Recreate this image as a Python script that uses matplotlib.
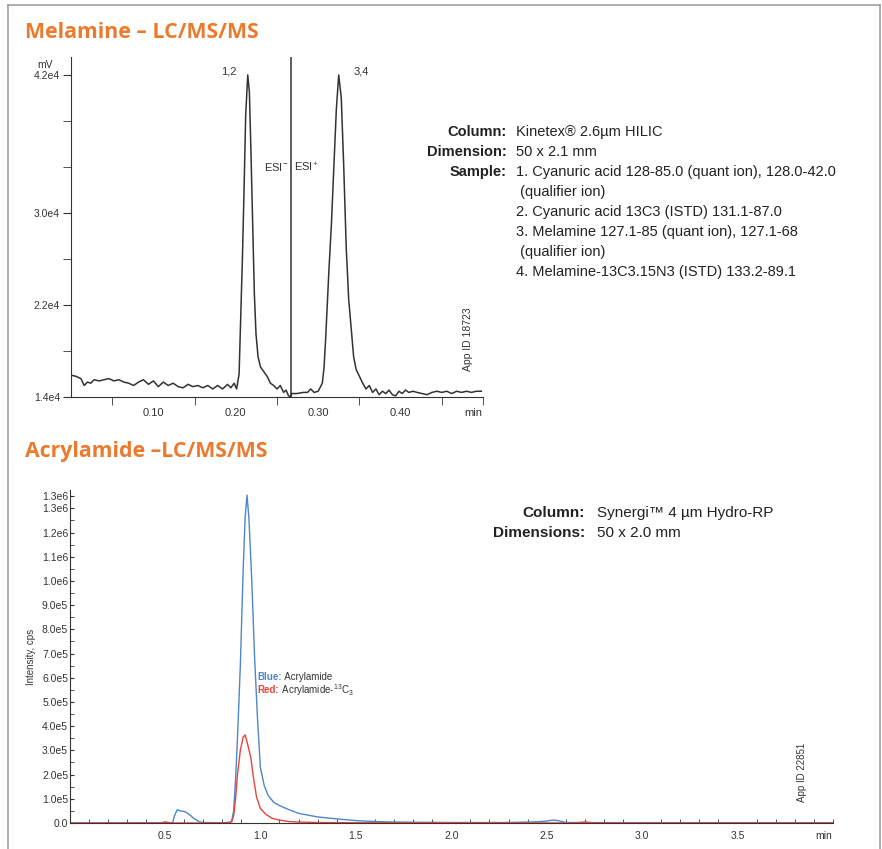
import numpy as np
import matplotlib.pyplot as plt
from matplotlib.lines import Line2D

# Melamine trace (time in min, signal in mV)
mel_t = [0.000, 0.006, 0.012, 0.016, 0.020, 0.024, 0.028, 0.034, 0.040, 0.046,
         0.052, 0.058, 0.064, 0.070, 0.076, 0.082, 0.088, 0.094, 0.100, 0.106,
         0.112, 0.118, 0.124, 0.130, 0.136, 0.142, 0.148, 0.154, 0.160, 0.166,
         0.172, 0.178, 0.184, 0.190, 0.194, 0.198, 0.201, 0.204, 0.206, 0.208,
         0.210, 0.212, 0.2145, 0.2165, 0.2185, 0.2205, 0.2225, 0.2245, 0.227, 0.230,
         0.234, 0.238, 0.242, 0.246, 0.250, 0.254, 0.258, 0.261, 0.264, 0.2672,
         0.2675, 0.274, 0.282, 0.287, 0.291, 0.295, 0.300, 0.305, 0.307, 0.309,
         0.311, 0.313, 0.316, 0.319, 0.322, 0.3249, 0.328, 0.331, 0.334, 0.337,
         0.340, 0.343, 0.346, 0.350, 0.354, 0.358, 0.362, 0.366, 0.370, 0.374,
         0.378, 0.382, 0.386, 0.390, 0.394, 0.398, 0.402, 0.406, 0.410, 0.415,
         0.420, 0.426, 0.432, 0.438, 0.444, 0.450, 0.456, 0.462, 0.468, 0.474,
         0.480, 0.486, 0.492, 0.498]
mel_v = [1.59, 1.58, 1.56, 1.50, 1.53, 1.52, 1.55, 1.54, 1.55, 1.56,
         1.54, 1.55, 1.53, 1.52, 1.50, 1.53, 1.55, 1.51, 1.54, 1.49,
         1.53, 1.50, 1.52, 1.49, 1.48, 1.51, 1.49, 1.50, 1.48, 1.50,
         1.47, 1.50, 1.47, 1.51, 1.48, 1.52, 1.47, 1.60, 2.10, 2.60,
         3.20, 3.85, 4.20, 4.05, 3.50, 2.90, 2.30, 1.95, 1.75, 1.66,
         1.62, 1.58, 1.52, 1.50, 1.47, 1.50, 1.44, 1.46, 1.41, 1.40,
         1.43, 1.43, 1.44, 1.44, 1.47, 1.44, 1.45, 1.52, 1.65, 1.90,
         2.20, 2.50, 2.90, 3.40, 3.90, 4.20, 4.00, 3.40, 2.70, 2.25,
         2.00, 1.75, 1.64, 1.58, 1.52, 1.47, 1.50, 1.44, 1.47, 1.42,
         1.45, 1.43, 1.46, 1.42, 1.41, 1.45, 1.43, 1.46, 1.44, 1.45,
         1.44, 1.43, 1.42, 1.44, 1.45, 1.44, 1.45, 1.43, 1.45, 1.44,
         1.45, 1.44, 1.45, 1.45]
mel_v = [v * 1e4 for v in mel_v]
esi_switch = 0.2672

# Acrylamide traces (time in min, intensity in cps, x1e5)
blue_t = [0.0, 0.3, 0.5, 0.54, 0.55, 0.565, 0.58, 0.60, 0.62, 0.65, 0.68, 0.70,
          0.80, 0.84, 0.85, 0.86, 0.87, 0.88, 0.895, 0.91, 0.92, 0.93, 0.94,
          0.955, 0.97, 0.985, 1.0, 1.02, 1.04, 1.07, 1.1, 1.15, 1.2, 1.3, 1.4,
          1.5, 1.6, 1.7, 1.8, 2.0, 2.3, 2.45, 2.5, 2.53, 2.56, 2.6, 2.7, 3.0,
          3.5, 4.0]
blue_v = [0.0, 0.0, 0.01, 0.01, 0.30, 0.55, 0.50, 0.48, 0.40, 0.20, 0.05, 0.02,
          0.01, 0.03, 0.10, 0.50, 1.80, 3.50, 6.50, 10.5, 12.6, 13.55, 12.6,
          10.0, 6.8, 4.3, 2.3, 1.55, 1.15, 0.85, 0.72, 0.55, 0.40, 0.25, 0.17,
          0.10, 0.06, 0.04, 0.03, 0.02, 0.02, 0.05, 0.08, 0.12, 0.10, 0.02, 0.02,
          0.01, 0.01, 0.01]
red_t = [0.0, 0.48, 0.5, 0.52, 0.55, 0.8, 0.84, 0.85, 0.86, 0.87, 0.88, 0.895,
         0.91, 0.92, 0.935, 0.95, 0.965, 0.98, 1.0, 1.03, 1.06, 1.1, 1.15, 1.2,
         1.3, 1.5, 2.0, 2.65, 2.7, 2.75, 3.0, 4.0]
red_v = [0.0, 0.0, 0.05, 0.02, 0.0, 0.0, 0.02, 0.05, 0.30, 1.00, 2.00, 3.00,
         3.55, 3.64, 3.20, 2.70, 1.80, 1.07, 0.60, 0.35, 0.20, 0.12, 0.06, 0.04,
         0.02, 0.01, 0.01, 0.0, 0.04, 0.0, 0.0, 0.0]
blue_v = [v * 1e5 for v in blue_v]
red_v = [v * 1e5 for v in red_v]

orange = '#EC7A2D'
ink = '#333333'
sans = ['Liberation Sans', 'DejaVu Sans']
narrow = ['Liberation Sans Narrow', 'Liberation Sans', 'DejaVu Sans']
plt.rcParams['font.family'] = sans
plt.rcParams['mathtext.fontset'] = 'custom'
plt.rcParams['mathtext.rm'] = 'Liberation Sans'

W, H = 882, 849
fig = plt.figure(figsize=(W / 100, H / 100), dpi=100)


def fx(px):
    return px / W


def fy(py):
    return 1 - py / H


# page frame
for xs, ys in [((8, 8), (5, 849)), ((8, 880), (5, 5)), ((880, 880), (5, 849))]:
    fig.add_artist(Line2D([fx(x) for x in xs], [fy(y) for y in ys],
                          color='#a0a0a0', lw=1.2))

# ---------------- Melamine panel ----------------
fig.text(fx(25), fy(33), 'Melamine \u2013 LC/MS/MS', color=orange,
         fontsize=15.3, fontweight='bold', family='Open Sans', va='center')

ax1 = fig.add_axes([fx(71), fy(397), fx(483) - fx(71), fy(57) - fy(397)])
ax1.plot(mel_t, mel_v, color=ink, lw=1.1)
ax1.axvline(esi_switch, color=ink, lw=1.1)
ax1.set_xlim(0, 0.5)
ax1.set_ylim(1.4e4, 4.356e4)
for s in ['top', 'right']:
    ax1.spines[s].set_visible(False)
for s in ['left', 'bottom']:
    ax1.spines[s].set_color(ink)
ax1.set_xticks([0.1, 0.2, 0.3, 0.4, 0.488])
ax1.set_xticklabels(['0.10', '0.20', '0.30', '0.40', 'min'])
ax1.set_xticks([0.05, 0.15, 0.25, 0.35, 0.45, 0.4995], minor=True)
ax1.tick_params(axis='x', which='major', length=0, pad=8, labelsize=8, labelcolor=ink)
ax1.tick_params(axis='x', which='minor', length=6, color=ink)
ax1.set_yticks([1.4e4, 2.2e4, 3.0e4, 4.2e4])
ax1.set_yticklabels(['1.4e4', '2.2e4', '3.0e4', '4.2e4'])
ax1.set_yticks([1.8e4, 2.6e4, 3.4e4, 3.8e4], minor=True)
ax1.tick_params(axis='y', which='both', length=6, color=ink, labelsize=7.5,
                labelcolor=ink, pad=2)
ax1.text(-0.031, 4.29e4, 'mV', fontsize=7.5, color=ink, ha='center', va='center')
ax1.text(0.1916, 4.226e4, '1,2', fontsize=8, color=ink, ha='center', va='center')
ax1.text(0.3525, 4.226e4, '3,4', fontsize=8, color=ink, ha='center', va='center')
ax1.text(esi_switch - 0.004, 3.4e4, 'ESI$^{-}$', fontsize=8, color=ink, ha='right', va='center')
ax1.text(esi_switch + 0.004, 3.4e4, 'ESI$^{+}$', fontsize=8, color=ink, ha='left', va='center')
ax1.text(0.482, 1.9e4, 'App ID 18723', rotation=90, fontsize=7.5, color=ink,
         ha='center', va='center')

info1 = [('Column:', 'Kinetex\u00ae 2.6\u00b5m HILIC'),
         ('Dimension:', '50 x 2.1 mm'),
         ('Sample:', '1. Cyanuric acid 128-85.0 (quant ion), 128.0-42.0'),
         ('', ' (qualifier ion)'),
         ('', '2. Cyanuric acid 13C3 (ISTD) 131.1-87.0'),
         ('', '3. Melamine 127.1-85 (quant ion), 127.1-68'),
         ('', ' (qualifier ion)'),
         ('', '4. Melamine-13C3.15N3 (ISTD) 133.2-89.1')]
for i, (lab, val) in enumerate(info1):
    y = fy(132 + 20 * i)
    if lab:
        fig.text(fx(507), y, lab, ha='right', va='center', fontsize=10.5,
                 fontweight='bold', family=narrow, color='#222222')
    fig.text(fx(516), y, val, ha='left', va='center', fontsize=10.5,
             family=narrow, color='#222222')

# ---------------- Acrylamide panel ----------------
fig.text(fx(25), fy(451), 'Acrylamide \u2013LC/MS/MS', color=orange,
         fontsize=15.3, fontweight='bold', family='Open Sans', va='center')

ax2 = fig.add_axes([fx(69.5), fy(823), fx(833) - fx(69.5), fy(490) - fy(823)])
ax2.plot(blue_t, blue_v, color='#4f86c6', lw=1.0)
ax2.plot(red_t, red_v, color='#e5453d', lw=1.0)
ax2.set_xlim(0, 4.0)
ax2.set_ylim(0, 13.76e5)
for s in ['top', 'right']:
    ax2.spines[s].set_visible(False)
for s in ['left', 'bottom']:
    ax2.spines[s].set_color(ink)
    ax2.spines[s].set_linewidth(0.8)
ax2.set_xticks([0.5, 1.0, 1.5, 2.0, 2.5, 3.0, 3.5, 3.95])
ax2.set_xticklabels(['0.5', '1.0', '1.5', '2.0', '2.5', '3.0', '3.5', 'min'])
ax2.set_xticks(np.arange(0.1, 4.01, 0.1), minor=True)
ax2.tick_params(axis='x', which='major', length=0, pad=6, labelsize=7.5, labelcolor=ink)
ax2.tick_params(axis='x', which='minor', direction='in', length=3, color=ink)
yt = [i * 1e5 for i in range(14)] + [13.5e5]
ylab = ['0.0'] + ['%.1fe5' % i for i in range(1, 10)] + ['1.0e6', '1.1e6', '1.2e6', '1.3e6', '1.3e6']
ax2.set_yticks(yt)
ax2.set_yticklabels(ylab)
ax2.set_yticks([i * 1e5 + 0.5e5 for i in range(13)], minor=True)
ax2.tick_params(axis='y', which='both', direction='in', length=3, color=ink,
                labelsize=7.5, labelcolor=ink, pad=1)
ax2.set_ylabel('Intensity, cps', fontsize=7, color=ink, labelpad=4)

t1 = ax2.text(0.985, 6.03e5, 'Blue:', color='#4f86c6', fontweight='bold',
              fontsize=7, va='center', ha='left')
ax2.annotate(' Acrylamide', xy=(1, 0.5), xycoords=t1, va='center', ha='left',
             fontsize=7, color=ink)
t2 = ax2.text(0.985, 5.5e5, 'Red:', color='#e5453d', fontweight='bold',
              fontsize=7, va='center', ha='left')
ax2.annotate(' Acrylamide-$^{13}$C$_3$', xy=(1, 0.5), xycoords=t2, va='center',
             ha='left', fontsize=7, color=ink)
ax2.text(3.84, 2.1e5, 'App ID 22851', rotation=90, fontsize=7, color=ink,
         ha='center', va='center')

info2 = [('Column:', 'Synergi\u2122 4 \u00b5m Hydro-RP'),
         ('Dimensions:', '50 x 2.0 mm')]
for i, (lab, val) in enumerate(info2):
    y = fy(513 + 20 * i)
    fig.text(fx(585), y, lab, ha='right', va='center', fontsize=11,
             fontweight='bold', family=narrow, color='#222222')
    fig.text(fx(597), y, val, ha='left', va='center', fontsize=11,
             family=narrow, color='#222222')

fig.savefig('out.png', dpi=100)
